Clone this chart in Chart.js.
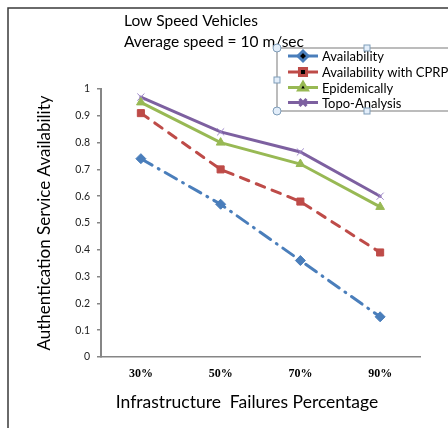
<!DOCTYPE html>
<html>
<head>
<meta charset="utf-8">
<script src="https://cdn.jsdelivr.net/npm/chart.js@4.4.1/dist/chart.umd.min.js"></script>
<style>
  html, body { margin: 0; padding: 0; background: #fff; }
  #wrap { width: 448px; height: 428px; }
</style>
</head>
<body>
<div id="wrap"><canvas id="speedChart" width="448" height="428"></canvas></div>
<script>
// chart data
var failures = ['30%', '50%', '70%', '90%'];
var availability = [0.74, 0.57, 0.36, 0.15];
var availabilityCprp = [0.91, 0.70, 0.58, 0.39];
var epidemically = [0.95, 0.80, 0.72, 0.56];
var topoAnalysis = [0.97, 0.84, 0.765, 0.60];
var titleLines = ['Low Speed Vehicles', 'Average speed = 10 m/sec'];
var xTitle = 'Infrastructure  Failures Percentage';
var yTitle = 'Authentication Service Availability';

var BLUE = '#4A7EBB', RED = '#BE4B48', GREEN = '#98B954', PURPLE = '#7D60A0';
var FONT = 'Lato, "Open Sans", sans-serif';

// frame, title, x title and the floating legend box
var decorations = {
    id: 'decorations',
    beforeDraw: function (chart) {
        var ctx = chart.ctx;
        ctx.save();
        ctx.fillStyle = '#fff';
        ctx.fillRect(0, 0, chart.width, chart.height);
        ctx.strokeStyle = '#3a3a3a';
        ctx.lineWidth = 1.5;
        ctx.beginPath();
        ctx.moveTo(8, chart.height);
        ctx.lineTo(8, 8);
        ctx.lineTo(chart.width, 8);
        ctx.stroke();
        ctx.restore();
    },
    afterDraw: function (chart) {
        var ctx = chart.ctx;
        ctx.save();
        ctx.fillStyle = '#000';
        ctx.font = '15.5px ' + FONT;
        ctx.textBaseline = 'middle';
        ctx.textAlign = 'left';
        ctx.fillText(titleLines[0], 124, 21);
        ctx.fillText(titleLines[1], 124, 42);

        ctx.font = '17.5px ' + FONT;
        ctx.textAlign = 'center';
        ctx.fillText(xTitle, 247, 402);

        // legend box
        var lx = 277, ly = 48, lb = 111;
        ctx.strokeStyle = '#a6a6a6';
        ctx.lineWidth = 1.5;
        ctx.beginPath();
        ctx.moveTo(chart.width, ly);
        ctx.lineTo(lx, ly);
        ctx.lineTo(lx, lb);
        ctx.lineTo(chart.width, lb);
        ctx.stroke();

        var rows = [56, 72, 87.5, 102.5];
        ctx.font = '13px ' + FONT;
        ctx.textAlign = 'left';
        chart.data.datasets.forEach(function (ds, i) {
            var y = rows[i];
            ctx.strokeStyle = ds.borderColor;
            ctx.lineWidth = 3;
            ctx.setLineDash([]);
            ctx.beginPath();
            ctx.moveTo(288, y);
            ctx.lineTo(318, y);
            ctx.stroke();
            Chart.helpers.drawPoint(ctx, {
                pointStyle: ds.pointStyle,
                radius: ds.pointRadius,
                borderWidth: ds.pointBorderWidth
            }, 303, y);
            ctx.fillStyle = '#000';
            ctx.fillText(ds.label, 322, y + 1);
        });

        // selection handles
        ctx.lineWidth = 1;
        ctx.strokeStyle = '#7f9db9';
        ctx.fillStyle = '#e3eefa';
        [[lx, ly], [lx, lb]].forEach(function (p) {
            ctx.beginPath();
            ctx.arc(p[0], p[1], 4, 0, Math.PI * 2);
            ctx.fill();
            ctx.stroke();
        });
        [[367, ly], [367, lb], [lx, 80]].forEach(function (p) {
            ctx.fillRect(p[0] - 3, p[1] - 3, 6, 6);
            ctx.strokeRect(p[0] - 3, p[1] - 3, 6, 6);
        });
        ctx.restore();
    }
};

function series(label, data, color, style, dash, markColor) {
    return {
        label: label,
        data: data,
        borderColor: color,
        backgroundColor: markColor || color,
        borderWidth: 3,
        borderDash: dash,
        borderCapStyle: 'round',
        pointStyle: style,
        pointRadius: 5,
        pointHoverRadius: 5,
        pointBorderColor: markColor || color,
        pointBackgroundColor: markColor || color,
        pointBorderWidth: 1,
        tension: 0,
        fill: false,
        clip: false
    };
}

var ctx = document.getElementById('speedChart').getContext('2d');
var chart = new Chart(ctx, {
    type: 'line',
    data: {
        labels: failures,
        datasets: [
            series('Availability', availability, BLUE, 'rectRot', [13, 7, 1, 7]),
            series('Availability with CPRP', availabilityCprp, RED, 'rect', [9, 8]),
            series('Epidemically', epidemically, GREEN, 'triangle', []),
            series('Topo-Analysis', topoAnalysis, PURPLE, 'crossRot', [], '#9C84C8')
        ]
    },
    options: {
        responsive: false,
        devicePixelRatio: 1,
        animation: false,
        layout: { padding: { left: 8, top: 89, right: 28, bottom: 0 } },
        plugins: {
            legend: { display: false },
            title: { display: false },
            tooltip: { enabled: false }
        },
        scales: {
            x: {
                offset: true,
                grid: { display: false, drawTicks: false },
                border: { display: true, color: '#868686', width: 1.5 },
                ticks: {
                    padding: 10,
                    color: '#000',
                    font: { family: '"Liberation Serif", serif', size: 12, weight: 'bold' }
                },
                afterFit: function (scale) { scale.height = 71; }
            },
            y: {
                min: 0,
                max: 1,
                grid: { drawOnChartArea: false, drawTicks: true, tickLength: 4, color: '#868686', lineWidth: 1.5 },
                border: { display: true, color: '#868686', width: 2 },
                ticks: {
                    stepSize: 0.1,
                    padding: 7,
                    color: '#222',
                    font: { family: FONT, size: 10.5 },
                    callback: function (v) { return String(Math.round(v * 10) / 10); }
                },
                title: {
                    display: true,
                    text: yTitle,
                    color: '#000',
                    font: { family: FONT, size: 17 },
                    padding: { top: 26, bottom: 0 }
                },
                afterFit: function (scale) { scale.width = 93; }
            }
        }
    },
    plugins: [decorations]
});
</script>
</body>
</html>
